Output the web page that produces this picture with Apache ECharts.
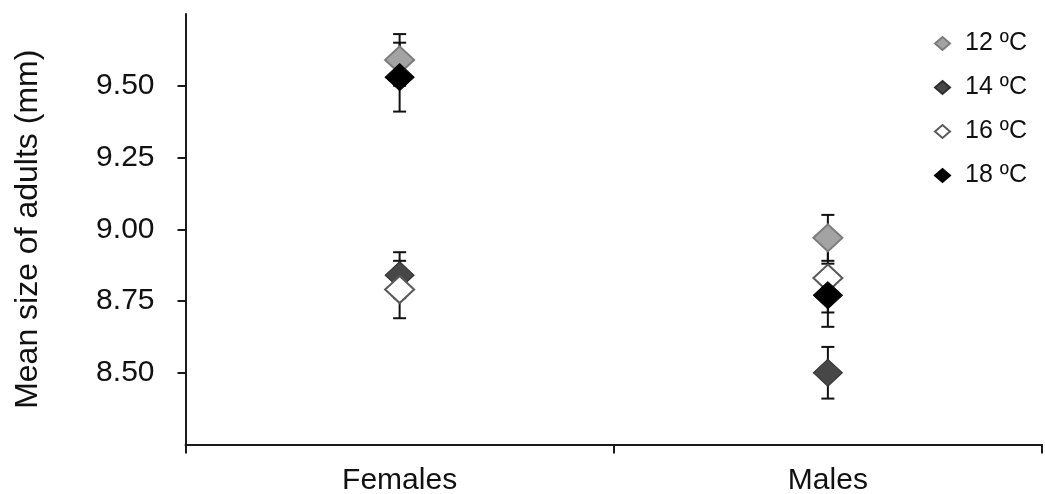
<!DOCTYPE html>
<html>
<head>
<meta charset="utf-8">
<style>
  html, body { margin: 0; padding: 0; background: #fff; }
  #chart { width: 1045px; height: 494px; }
</style>
<script src="https://cdn.jsdelivr.net/npm/echarts@6/dist/echarts.min.js"></script>
</head>
<body>
<div id="chart"></div>
<script>
// Groups on the x axis
const categories = ['Females', 'Males'];
// Rearing temperatures (one series each)
const temperatures = ['12 ºC', '14 ºC', '16 ºC', '18 ºC'];

// Mean adult size (mm) per group, and the error half-width
const mean12 = [9.59, 8.97];
const err12  = [0.09, 0.08];
const mean14 = [8.84, 8.50];
const err14  = [0.08, 0.09];
const mean16 = [8.79, 8.83];
const err16  = [0.10, 0.12];
const mean18 = [9.53, 8.77];
const err18  = [0.12, 0.11];

// Y axis range and step
const yMin = 8.25;
const yMax = 9.75;
const yStep = 0.25;

const FONT = '"Liberation Sans", Arial, Helvetica, sans-serif';

const seriesDefs = [
  { name: temperatures[0], mean: mean12, err: err12, fill: '#a3a3a3', border: '#7c7c7c', bw: 2 },
  { name: temperatures[1], mean: mean14, err: err14, fill: '#474747', border: '#2e2e2e', bw: 1 },
  { name: temperatures[2], mean: mean16, err: err16, fill: '#ffffff', border: '#5a5a5a', bw: 2 },
  { name: temperatures[3], mean: mean18, err: err18, fill: '#000000', border: '#000000', bw: 1 }
];

// Error bar: vertical line with short caps at both ends
function renderErrorBar(params, api) {
  const idx = api.value(0);
  const top = api.coord([idx, api.value(2)]);
  const bottom = api.coord([idx, api.value(1)]);
  const half = 6.5;
  const style = { stroke: '#111', lineWidth: 2 };
  return {
    type: 'group',
    children: [
      { type: 'line', shape: { x1: top[0], y1: top[1], x2: bottom[0], y2: bottom[1] }, style: style },
      { type: 'line', shape: { x1: top[0] - half, y1: top[1], x2: top[0] + half, y2: top[1] }, style: style },
      { type: 'line', shape: { x1: bottom[0] - half, y1: bottom[1], x2: bottom[0] + half, y2: bottom[1] }, style: style }
    ]
  };
}

const errorSeries = seriesDefs.map(function (d) {
  return {
    type: 'custom',
    renderItem: renderErrorBar,
    silent: true,
    z: 1,
    data: d.mean.map(function (m, i) { return [i, m - d.err[i], m + d.err[i]]; })
  };
});

const markerSeries = seriesDefs.map(function (d) {
  return {
    type: 'scatter',
    name: d.name,
    symbol: 'diamond',
    symbolSize: [29, 27],
    z: 2,
    silent: true,
    itemStyle: { color: d.fill, borderColor: d.border, borderWidth: d.bw, opacity: 1 },
    data: d.mean.map(function (m, i) { return [i, m]; })
  };
});

const chart = echarts.init(document.getElementById('chart'), null, { renderer: 'canvas' });

chart.setOption({
  animation: false,
  backgroundColor: '#ffffff',
  textStyle: { fontFamily: FONT },
  grid: { left: 185.5, right: 3, top: 14, bottom: 49.5, containLabel: false, outerBoundsMode: 'none' },
  legend: {
    orient: 'vertical',
    left: 929,
    top: 26,
    itemWidth: 15,
    itemHeight: 13,
    itemGap: 19,
    icon: 'diamond',
    data: temperatures,
    selectedMode: false,
    textStyle: { fontFamily: FONT, fontSize: 25, color: '#111', lineHeight: 25, padding: [0, 0, 0, 10] }
  },
  xAxis: {
    type: 'category',
    data: categories,
    boundaryGap: true,
    axisLine: { show: true, lineStyle: { color: '#1a1a1a', width: 2 } },
    axisTick: { show: true, length: 9, alignWithLabel: false, interval: 0, lineStyle: { color: '#1a1a1a', width: 2 } },
    axisLabel: { fontFamily: FONT, fontSize: 30, color: '#111', margin: 21, interval: 0 },
    splitLine: { show: false }
  },
  yAxis: {
    type: 'value',
    min: yMin,
    max: yMax,
    interval: yStep,
    name: 'Mean size of adults (mm)',
    nameLocation: 'middle',
    nameRotate: 90,
    nameGap: 141,
    nameTextStyle: { fontFamily: FONT, fontSize: 32, color: '#111' },
    axisLine: { show: true, lineStyle: { color: '#1a1a1a', width: 2 } },
    axisTick: { show: true, length: 8, lineStyle: { color: '#1a1a1a', width: 2 } },
    axisLabel: {
      fontFamily: FONT, fontSize: 30, color: '#111', margin: 31,
      showMinLabel: false, showMaxLabel: false,
      formatter: function (v) { return v.toFixed(2); }
    },
    splitLine: { show: false }
  },
  series: errorSeries.concat(markerSeries)
});
</script>
</body>
</html>
